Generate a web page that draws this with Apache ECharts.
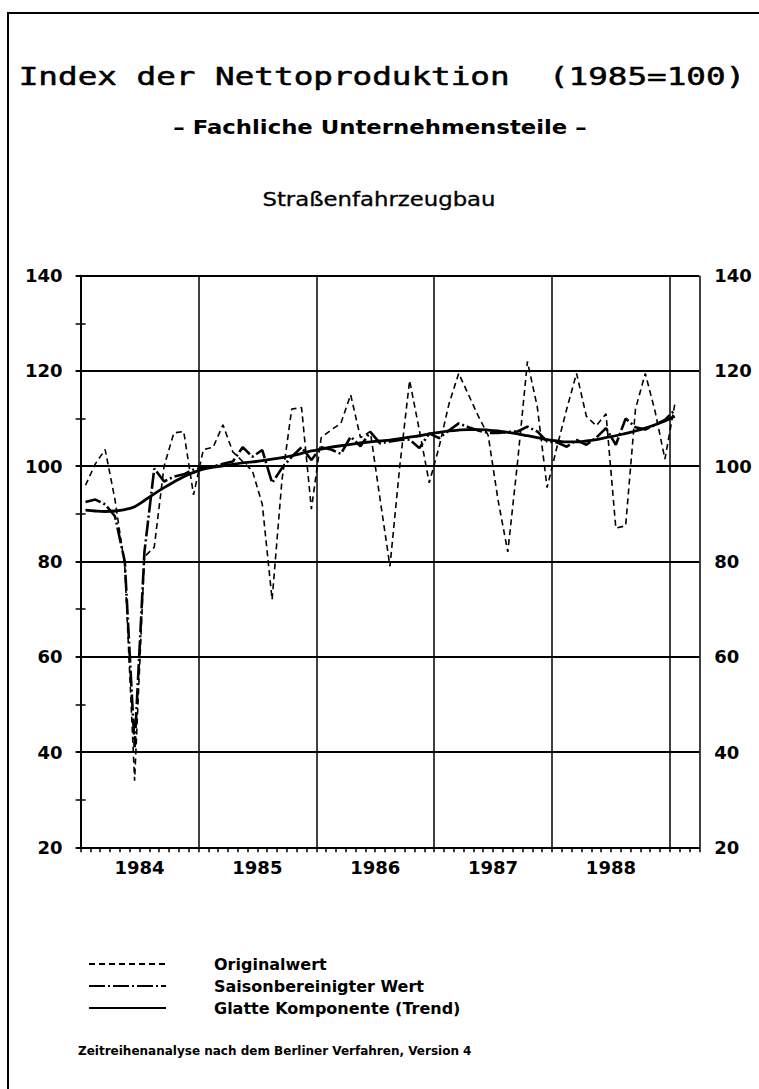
<!DOCTYPE html>
<html>
<head>
<meta charset="utf-8">
<script src="https://cdn.jsdelivr.net/npm/echarts@6/dist/echarts.min.js"></script>
<style>
html,body{margin:0;padding:0;background:#fff;}
#chart{width:759px;height:1089px;}
</style>
</head>
<body>
<div id="chart"></div>
<script>
// ---- data (monthly, Jan 1984 .. Jan 1989) ----
const years = ['1984', '1985', '1986', '1987', '1988'];
const yTickLabels = [20, 40, 60, 80, 100, 120, 140];

const originalwert = [
  96, 100.5, 103.5, 93, 79, 34, 81, 83, 100, 107, 107.3, 94,
  103.5, 104, 108.7, 103, 101, 99, 92, 72, 97, 112, 112.3, 91,
  106, 107.6, 109, 115, 106, 107.3, 93, 79, 100, 118, 107.5, 96.5,
  104, 113, 119.5, 115, 110.5, 106.5, 93, 82, 101, 122, 112.5, 95.5,
  104, 112, 119.5, 110.5, 108.5, 111, 87, 87.5, 112, 119.5, 111.5, 101.5,
  113
];
const saisonbereinigt = [
  92.5, 93, 92, 89.5, 80, 41, 82, 99.5, 96.8, 97.8, 98.3, 99.3,
  99.8, 100, 100.5, 101, 104, 102, 103.4, 96.5, 99.6, 102, 104, 101.3,
  104, 103.5, 102.6, 106.2, 104.2, 107.2, 104.8, 105.2, 105.5, 105.6, 103.8, 106.9,
  105.9, 107.5, 109, 108.2, 107.5, 107, 107, 107.2, 107.3, 108.3, 107.3, 105.2,
  105, 104.1, 105.5, 104.5, 106, 108, 104.5, 110, 108.2, 107.7, 108.7, 109.7,
  111.8
];
const glatteKomponente = [
  90.8, 90.6, 90.5, 90.6, 90.9, 91.5, 92.8, 94.2, 95.5, 96.7, 97.8, 98.7,
  99.4, 99.8, 100.1, 100.4, 100.7, 100.9, 101.2, 101.5, 101.8, 102.2, 102.7, 103.2,
  103.6, 104.0, 104.3, 104.6, 104.9, 105.1, 105.3, 105.5, 105.8, 106.1, 106.4, 106.8,
  107.1, 107.4, 107.6, 107.7, 107.7, 107.6, 107.4, 107.1, 106.8, 106.4, 106.0, 105.6,
  105.3, 105.1, 105.1, 105.3, 105.6, 106.0, 106.4, 106.9, 107.4, 108.0, 108.7, 109.5,
  110.5
];
const seriesNames = ['Originalwert', 'Saisonbereinigter Wert', 'Glatte Komponente (Trend)'];
const totalMonths = 63; // Jan 1984 .. Mar 1989 on the axis

const toPoints = arr => arr.map((v, i) => [i + 0.5, v]);

const chart = echarts.init(document.getElementById('chart'), null, {renderer: 'svg'});
const axisFont = {color: '#000', fontFamily: 'DejaVu Sans', fontWeight: 'bold', fontSize: 18};
const black = '#000';

const yBase = {
  type: 'value',
  min: yTickLabels[0],
  max: yTickLabels[yTickLabels.length - 1],
  interval: yTickLabels[1] - yTickLabels[0],
  axisLine: {show: true, lineStyle: {color: black, width: 2}},
  axisTick: {show: true, length: 5, lineStyle: {color: black, width: 2}},
  minorTick: {show: true, splitNumber: 2, length: 5, lineStyle: {color: black, width: 1.5}},
};

chart.setOption({
  animation: false,
  backgroundColor: '#fff',
  grid: {left: 80.6, right: 59.7, top: 275.7, bottom: 241.7, containLabel: false},
  xAxis: [
    {
      type: 'value', min: 0, max: totalMonths, interval: 12,
      axisLine: {show: true, onZero: false, lineStyle: {color: black, width: 2}},
      axisTick: {show: false}, axisLabel: {show: false},
      splitLine: {show: true, lineStyle: {color: black, width: 1.5}}
    },
    {
      type: 'value', min: 0, max: totalMonths, interval: 1, position: 'bottom',
      axisLine: {show: false, onZero: false},
      axisTick: {show: true, length: 5, lineStyle: {color: black, width: 1.5}},
      axisLabel: Object.assign({
        margin: 11,
        formatter: v => {
          const m = Math.round(v);
          return (m % 12 === 6) ? (years[(m - 6) / 12] || '') : '';
        }
      }, axisFont),
      splitLine: {show: false}
    }
  ],
  yAxis: [
    Object.assign({}, yBase, {
      position: 'left',
      axisLabel: Object.assign({margin: 18}, axisFont),
      splitLine: {show: true, lineStyle: {color: black, width: 2}}
    }),
    Object.assign({}, yBase, {
      position: 'right',
      axisLabel: Object.assign({margin: 15}, axisFont),
      splitLine: {show: false}
    })
  ],
  legend: {
    orient: 'vertical', left: 83, top: 951,
    itemWidth: 77, itemHeight: 14, itemGap: 6,
    data: seriesNames,
    itemStyle: {color: 'rgba(0,0,0,0)', borderWidth: 0, opacity: 0},
    textStyle: {color: black, fontFamily: 'DejaVu Sans', fontWeight: 'bold', fontSize: 16, padding: [0, 0, 0, 43]}
  },
  series: [
    {
      name: seriesNames[0], type: 'line', data: toPoints(originalwert),
      symbol: 'none',
      lineStyle: {color: black, width: 1.6, type: [6, 4]}, z: 3
    },
    {
      name: seriesNames[1], type: 'line', data: toPoints(saisonbereinigt),
      symbol: 'none',
      lineStyle: {color: black, width: 2.6, type: [16, 3, 2, 3]}, z: 4
    },
    {
      name: seriesNames[2], type: 'line', data: toPoints(glatteKomponente),
      symbol: 'none', smooth: 0.4,
      lineStyle: {color: black, width: 2.8}, z: 5
    }
  ],
  graphic: [
    {type: 'rect', shape: {x: 8, y: 13, width: 800, height: 1200},
     style: {fill: 'none', stroke: black, lineWidth: 2}, silent: true},
    {type: 'text', x: 382, y: 77, scaleX: 1.36,
     style: {text: 'Index der Nettoproduktion  (1985=100)', fill: black, stroke: black, lineWidth: 0.5,
             fontFamily: 'DejaVu Sans Mono', fontSize: 24, align: 'center', verticalAlign: 'middle'}},
    {type: 'text', x: 380, y: 128, scaleX: 1.2,
     style: {text: '\u2013 Fachliche Unternehmensteile \u2013', fill: black,
             fontFamily: 'DejaVu Sans', fontWeight: 'bold', fontSize: 19, align: 'center', verticalAlign: 'middle'}},
    {type: 'text', x: 379, y: 200, scaleX: 1.2,
     style: {text: 'Stra\u00dfenfahrzeugbau', fill: black, stroke: black, lineWidth: 0.3,
             fontFamily: 'DejaVu Sans', fontSize: 19, align: 'center', verticalAlign: 'middle'}},
    {type: 'text', x: 78, y: 1051,
     style: {text: 'Zeitreihenanalyse nach dem Berliner Verfahren, Version 4', fill: black,
             fontFamily: 'DejaVu Sans', fontWeight: 'bold', fontSize: 12, align: 'left', verticalAlign: 'middle'}}
  ]
});
</script>
</body>
</html>
